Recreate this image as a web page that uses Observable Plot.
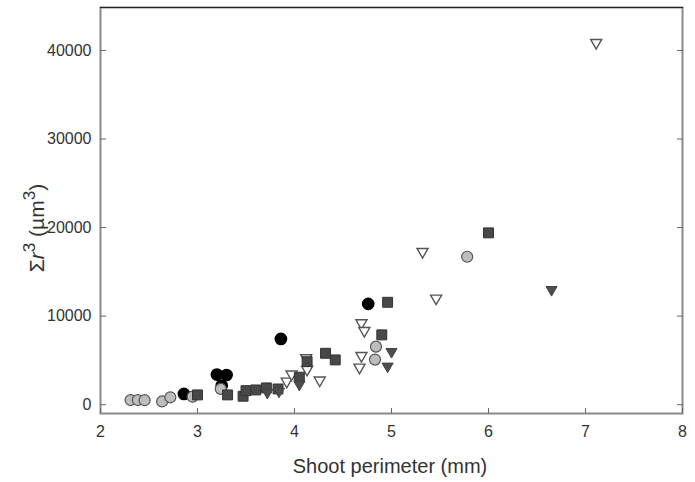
<!DOCTYPE html>
<html><head><meta charset="utf-8">
<script src="https://cdn.jsdelivr.net/npm/d3@7"></script>
<script src="https://cdn.jsdelivr.net/npm/@observablehq/plot@0.6"></script>
<style>body{margin:0;background:#fff;} #chart{width:695px;height:482px;}</style>
</head><body><div id="chart"></div>
<script>
// Series: [x (mm), y (µm³)]
const blackCircles = [[2.86,1210],[3.20,3400],[3.30,3350],[3.25,2150],[3.86,7420],[4.76,11380]];
const grayCircles = [[2.31,520],[2.385,520],[2.455,500],[2.635,360],[2.72,830],[2.95,900],[3.24,1780],[4.84,6550],[4.83,5090],[5.78,16700]];
const openTriangles = [[3.92,2450],[3.97,3250],[4.13,3800],[4.12,5100],[4.26,2580],[4.69,9040],[4.72,8170],[4.69,5340],[4.67,4030],[5.32,17100],[5.46,11830],[7.11,40700]];
const darkSquares = [[3.00,1100],[3.31,1100],[3.47,950],[3.50,1580],[3.60,1660],[3.71,1890],[3.83,1770],[4.05,3100],[4.13,4850],[4.32,5800],[4.42,5050],[4.90,7880],[4.96,11560],[6.00,19400]];
const darkTriangles = [[3.72,1190],[3.84,1320],[4.05,2100],[4.96,4150],[5.00,5800],[6.65,12800]];

const xTicks = [2,3,4,5,6,7,8];
const yTicks = [0,10000,20000,30000,40000];
const xDomain = [2,8];
const yDomain = [-1000,44850];

const triangleDown = {
  draw(context, size) {
    const s = Math.sqrt(size) * 1.25;
    const h = s * Math.sqrt(3) / 2;
    context.moveTo(-s/2, -h/2);
    context.lineTo(s/2, -h/2);
    context.lineTo(0, h/2);
    context.closePath();
  }
};

const toRows = (arr) => arr.map(([x,y]) => ({x,y}));

const chart = Plot.plot({
  width: 695, height: 482,
  marginLeft: 100, marginRight: 13, marginTop: 7, marginBottom: 69,
  x: {domain: xDomain},
  y: {domain: yDomain},
  style: {fontFamily: "'Liberation Sans', Arial, sans-serif", fontSize: "16px", color: "#333", background: "#fff"},
  marks: [
    Plot.frame({stroke: "#8a8a8a", strokeWidth: 2}),
    Plot.frame({anchor: "top", stroke: "#222", strokeWidth: 1.2}),
    Plot.axisX({ticks: xTicks, tickSize: 0, tickPadding: 12, label: null, tickFormat: d => String(d)}),
    Plot.axisX({ticks: xTicks, tickSize: -5, tickFormat: () => "", label: null, stroke: "#666"}),
    Plot.axisY({ticks: yTicks, tickSize: 0, tickPadding: 9, label: null, tickFormat: d => String(d)}),
    Plot.axisY({ticks: yTicks, tickSize: -6, tickFormat: () => "", label: null, stroke: "#666"}),
    Plot.axisY({anchor: "right", ticks: yTicks, tickSize: -6, tickFormat: () => "", label: null, stroke: "#666"}),
    Plot.dot(toRows(openTriangles), {x: "x", y: "y", symbol: triangleDown, r: 5, fill: "#fff", stroke: "#555", strokeWidth: 1.4}),
    Plot.dot(toRows(blackCircles), {x: "x", y: "y", symbol: "circle", r: 5.6, fill: "#000", stroke: "#000"}),
    Plot.dot(toRows(grayCircles), {x: "x", y: "y", symbol: "circle", r: 5.5, fill: "#bdbdbd", stroke: "#555", strokeWidth: 1.2}),
    Plot.dot(toRows(darkSquares), {x: "x", y: "y", symbol: "square", r: 5.6, fill: "#484848", stroke: "#333", strokeWidth: 1}),
    Plot.dot(toRows(darkTriangles), {x: "x", y: "y", symbol: triangleDown, r: 5, fill: "#4d4d4d", stroke: "#444", strokeWidth: 1})
  ]
});

const svg = d3.select(chart);
svg.append("text")
  .attr("x", 390).attr("y", 473)
  .attr("text-anchor", "middle")
  .attr("font-size", 20).attr("fill", "#333")
  .attr("font-family", "'Liberation Sans', Arial, sans-serif")
  .text("Shoot perimeter (mm)");

const yt = svg.append("text")
  .attr("transform", "translate(44,228) rotate(-90)")
  .attr("text-anchor", "middle")
  .attr("font-size", 21).attr("fill", "#333")
  .attr("font-family", "'Liberation Sans', Arial, sans-serif");
yt.append("tspan").text("Σ");
yt.append("tspan").attr("font-style", "italic").text("r");
yt.append("tspan").attr("dy", -9).attr("font-size", 17).text("3");
yt.append("tspan").attr("dy", 9).text(" (µm");
yt.append("tspan").attr("dy", -9).attr("font-size", 17).text("3");
yt.append("tspan").attr("dy", 9).text(")");

document.getElementById("chart").appendChild(chart);
</script>
</body></html>
